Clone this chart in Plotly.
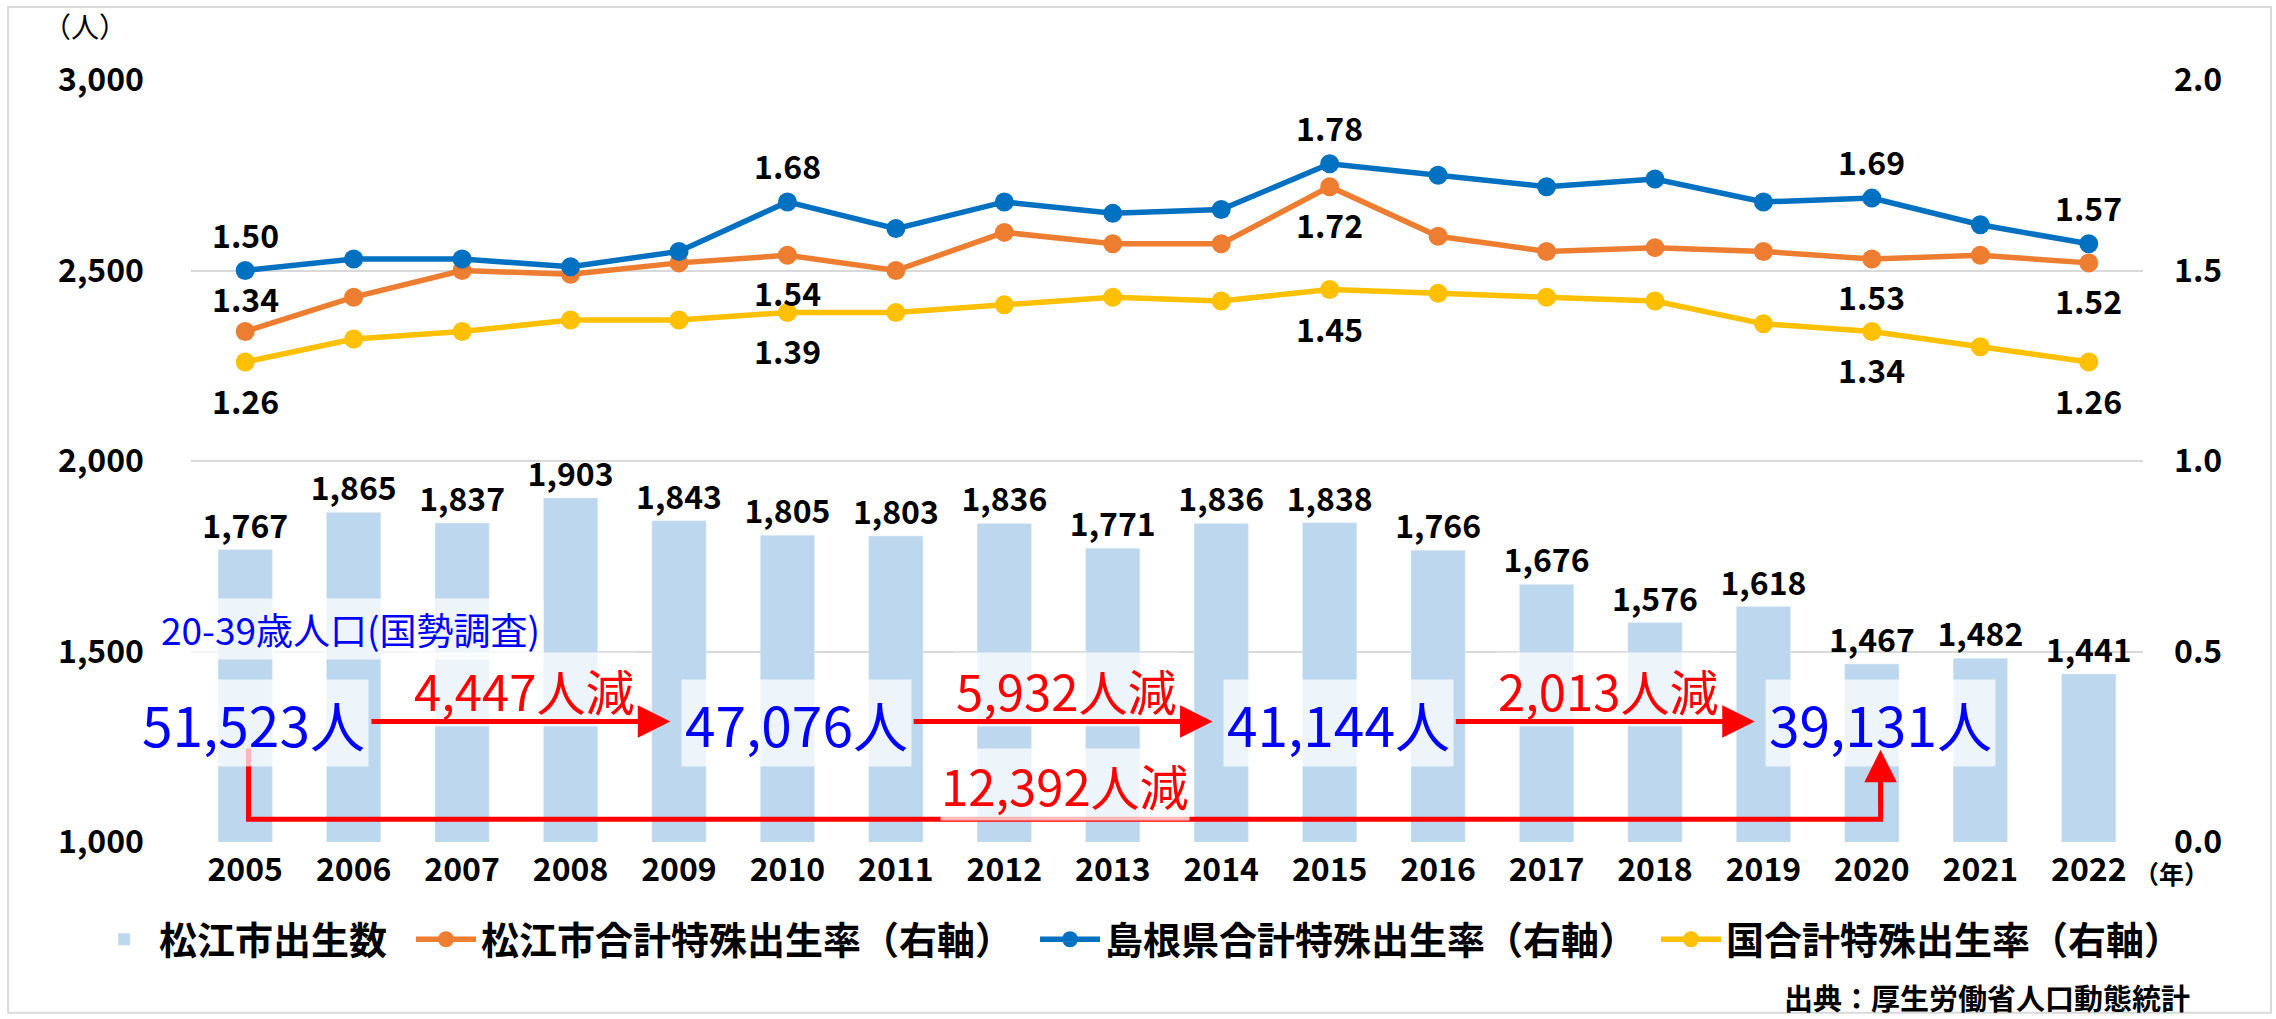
import plotly.graph_objects as go

# ---------------- data ----------------
years = ["2005", "2006", "2007", "2008", "2009", "2010", "2011", "2012", "2013",
         "2014", "2015", "2016", "2017", "2018", "2019", "2020", "2021", "2022"]
births_matsue = [1767, 1865, 1837, 1903, 1843, 1805, 1803, 1836, 1771,
                 1836, 1838, 1766, 1676, 1576, 1618, 1467, 1482, 1441]
tfr_matsue = [1.34, 1.43, 1.50, 1.49, 1.52, 1.54, 1.50, 1.60, 1.57,
              1.57, 1.72, 1.59, 1.55, 1.56, 1.55, 1.53, 1.54, 1.52]
tfr_shimane = [1.50, 1.53, 1.53, 1.51, 1.55, 1.68, 1.61, 1.68, 1.65,
               1.66, 1.78, 1.75, 1.72, 1.74, 1.68, 1.69, 1.62, 1.57]
tfr_japan = [1.26, 1.32, 1.34, 1.37, 1.37, 1.39, 1.39, 1.41, 1.43,
             1.42, 1.45, 1.44, 1.43, 1.42, 1.36, 1.34, 1.30, 1.26]
labelled_years = ["2005", "2010", "2015", "2020", "2022"]

census_years = ["2005", "2010", "2015", "2020"]
pop_20_39 = [51523, 47076, 41144, 39131]

names = ["松江市出生数", "松江市合計特殊出生率（右軸）",
         "島根県合計特殊出生率（右軸）", "国合計特殊出生率（右軸）"]

# ---------------- style ----------------
FONT = "Noto Sans CJK JP"
C_BAR = "#BDD7EE"
C_OR = "#ED7D31"
C_BL = "#0070C0"
C_YE = "#FFC000"
RED = "#FF0000"
BLUE = "#0000FF"
GRID = "#D9D9D9"
NUMF = dict(family=FONT, size=32, color="#000000", weight="bold")

xpos = list(range(len(years)))  # category slots on the x axis

fig = go.Figure()
fig.add_trace(go.Bar(
    x=xpos, y=births_matsue, name=names[0], marker_color=C_BAR,
    texttemplate="%{y:,}", textposition="outside", cliponaxis=False,
    constraintext="none", textfont=NUMF, yaxis="y", legend="legend"))
for vals, col, nm, lg in [(tfr_matsue, C_OR, names[1], "legend2"),
                          (tfr_shimane, C_BL, names[2], "legend3"),
                          (tfr_japan, C_YE, names[3], "legend4")]:
    fig.add_trace(go.Scatter(
        x=xpos, y=vals, name=nm, mode="lines+markers", yaxis="y2",
        line=dict(color=col, width=5.5), marker=dict(color=col, size=19),
        cliponaxis=False, legend=lg))

ann = []
# rate labels
for vals, nm, default in [(tfr_shimane, names[2], 37), (tfr_matsue, names[1], -37),
                          (tfr_japan, names[3], -38)]:
    for yr in labelled_years:
        i = years.index(yr)
        ys = default
        if nm == names[1] and yr == "2005":
            ys = 33
        ann.append(dict(x=i, y=vals[i], xref="x", yref="y2", text=f"{vals[i]:.2f}",
                        showarrow=False, yshift=ys, font=NUMF))

# population boxes
pop_font = dict(family=FONT, size=55, color=BLUE)
idx = [years.index(y) for y in census_years]
for i, p in zip(idx, pop_20_39):
    ann.append(dict(x=i + 0.08, y=1312, xref="x", yref="y", text=f"{p:,}人",
                    showarrow=False, font=pop_font, bgcolor="rgba(255,255,255,0.72)",
                    borderpad=3))

# decrease labels + arrows
red_font = dict(family=FONT, size=49, color=RED)
for k in range(3):
    a, b = idx[k], idx[k + 1]
    diff = pop_20_39[k] - pop_20_39[k + 1]
    ann.append(dict(x=(a + b) / 2 + 0.07, y=1400, xref="x", yref="y",
                    text=f"{diff:,}人減", showarrow=False, font=red_font,
                    bgcolor="rgba(255,255,255,0.72)", borderpad=1))
    ann.append(dict(x=b - 1.08, y=1316, xref="x", yref="y", ax=a + 1.15, ay=1316,
                    axref="x", ayref="y", text="", showarrow=True, arrowhead=2,
                    arrowsize=1.3, arrowwidth=5, arrowcolor=RED, standoff=0,
                    startstandoff=0))
total = pop_20_39[0] - pop_20_39[-1]
ann.append(dict(x=(idx[0] + idx[-1]) / 2 + 0.06, y=1152, xref="x", yref="y",
                text=f"{total:,}人減", showarrow=False, font=red_font,
                bgcolor="rgba(255,255,255,0.72)", borderpad=0))
ann.append(dict(x=idx[-1] + 0.08, y=1242, xref="x", yref="y", ax=idx[-1] + 0.08, ay=1100,
                axref="x", ayref="y", text="", showarrow=True, arrowhead=2,
                arrowsize=1.3, arrowwidth=5, arrowcolor=RED, standoff=0, startstandoff=0))
ann.append(dict(x=0.97, y=1560, xref="x", yref="y", text="20-39歳人口(国勢調査)",
                showarrow=False, font=dict(family=FONT, size=37, color=BLUE),
                bgcolor="rgba(255,255,255,0.72)", borderpad=3))

# misc text
ann.append(dict(x=-0.077, y=1.071, xref="paper", yref="paper", text="（人）",
                yanchor="middle", showarrow=False,
                font=dict(family=FONT, size=28, color="#000000")))
ann.append(dict(x=0.9944, y=0, xref="paper", yref="paper", text="（年）", xanchor="left",
                yanchor="middle", yshift=-31, showarrow=False,
                font=dict(family=FONT, size=25, color="#000000", weight="bold")))
ann.append(dict(x=1.025, y=-0.203, xref="paper", yref="paper",
                text="出典：厚生労働省人口動態統計", xanchor="right", yanchor="middle",
                showarrow=False,
                font=dict(family=FONT, size=29, color="#000000", weight="bold")))

shapes = [
    # bracket for the total decrease
    dict(type="path", xref="x", yref="y",
         path=f"M {idx[0] + 0.03},1246 V 1060 H {idx[-1] + 0.08} V 1150",
         line=dict(color=RED, width=5)),
    # box around 2015
    dict(type="rect", xref="x", yref="y", x0=years.index("2015") - 0.48,
         x1=years.index("2015") + 0.51, ysizemode="pixel", yanchor=1000, y0=-8, y1=-52,
         line=dict(color=RED, width=3.5), fillcolor="rgba(0,0,0,0)"),
    # outer frame
    dict(type="rect", xref="paper", yref="paper", x0=-0.0937, x1=1.0656,
         y0=-0.224, y1=1.0958, line=dict(color=GRID, width=2), layer="below"),
]

leg_font = dict(family=FONT, size=38, color="#000000", weight="bold")
leg_common = dict(orientation="h", y=-0.128, xanchor="left", yanchor="middle",
                  font=leg_font, bgcolor="rgba(0,0,0,0)", itemwidth=60)

fig.update_layout(
    width=2276, height=1019, showlegend=True,
    margin=dict(l=191, r=133, t=80, b=177, autoexpand=False),
    paper_bgcolor="white", plot_bgcolor="white",
    font=dict(family=FONT, color="#000000"),
    bargap=0.5,
    xaxis=dict(range=[-0.5, len(years) - 0.5], tickvals=xpos, ticktext=years,
               showgrid=False, ticks="", showline=False, zeroline=False,
               tickfont=NUMF, ticklabelstandoff=6),
    yaxis=dict(range=[1000, 3000], tick0=1000, dtick=500, tickformat=",",
               showgrid=True, gridcolor=GRID, gridwidth=2, zeroline=False,
               ticks="", ticklabelstandoff=46, tickfont=NUMF),
    yaxis2=dict(range=[0, 2], tick0=0, dtick=0.5, tickformat=".1f", overlaying="y",
                side="right", showgrid=False, zeroline=False, ticks="",
                ticklabelstandoff=30, tickfont=NUMF),
    legend=dict(x=-0.0522, **leg_common),
    legend2=dict(x=0.1127, **leg_common),
    legend3=dict(x=0.4324, **leg_common),
    legend4=dict(x=0.7505, **leg_common),
    annotations=ann, shapes=shapes,
)

fig.write_html("out.html", config={"displayModeBar": False},
               post_script="document.body.style.margin='0';document.body.style.overflow='hidden';")
